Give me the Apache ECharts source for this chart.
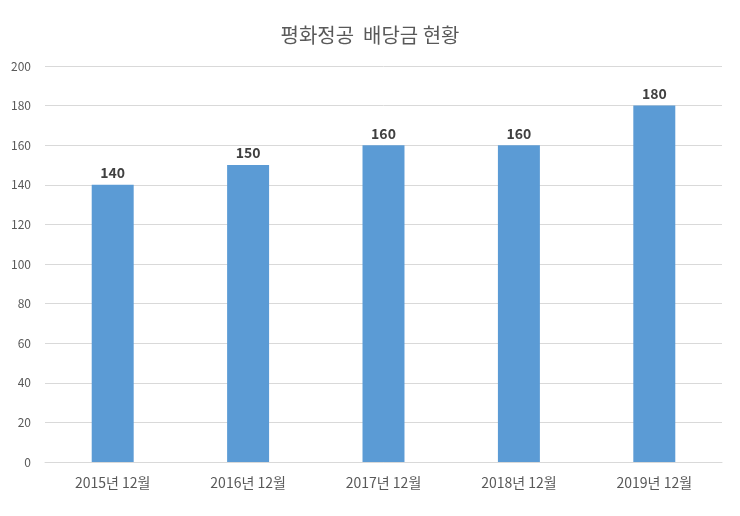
<!DOCTYPE html>
<html>
<head>
<meta charset="utf-8">
<script src="https://cdn.jsdelivr.net/npm/echarts@6/dist/echarts.min.js"></script>
<style>body{margin:0;background:#fff}#main{width:740px;height:516px}</style>
</head>
<body>
<div id="main"></div>
<script>
var categories = ['2015년 12월', '2016년 12월', '2017년 12월', '2018년 12월', '2019년 12월'];
var dividends = [140, 150, 160, 160, 180];

var myChart = echarts.init(document.getElementById('main'));
var font = '"Noto Sans CJK KR", "Noto Sans", sans-serif';

var option = {
	animation: false,
	textStyle: { fontFamily: font },
	title: {
		text: '평화정공  배당금 현황',
		left: 'center',
		top: 20,
		textStyle: { fontSize: 20, fontWeight: 'normal', color: '#595959', fontFamily: font }
	},
	grid: { left: 45, right: 18, top: 66, bottom: 54 },
	xAxis: {
		type: 'category',
		data: categories,
		axisTick: { show: false },
		axisLine: { lineStyle: { color: '#d9d9d9' } },
		axisLabel: { color: '#595959', fontSize: 14, margin: 14 }
	},
	yAxis: {
		type: 'value',
		min: 0,
		max: 200,
		interval: 20,
		axisLabel: { color: '#595959', fontSize: 12, margin: 14 },
		splitLine: { lineStyle: { color: '#d9d9d9' } }
	},
	series: [{
		type: 'bar',
		data: dividends,
		barWidth: '31%',
		itemStyle: { color: '#5b9bd5' },
		label: { show: true, position: 'top', fontSize: 14, fontWeight: 'bold', color: '#404040' }
	}]
};
myChart.setOption(option);
</script>
</body>
</html>
